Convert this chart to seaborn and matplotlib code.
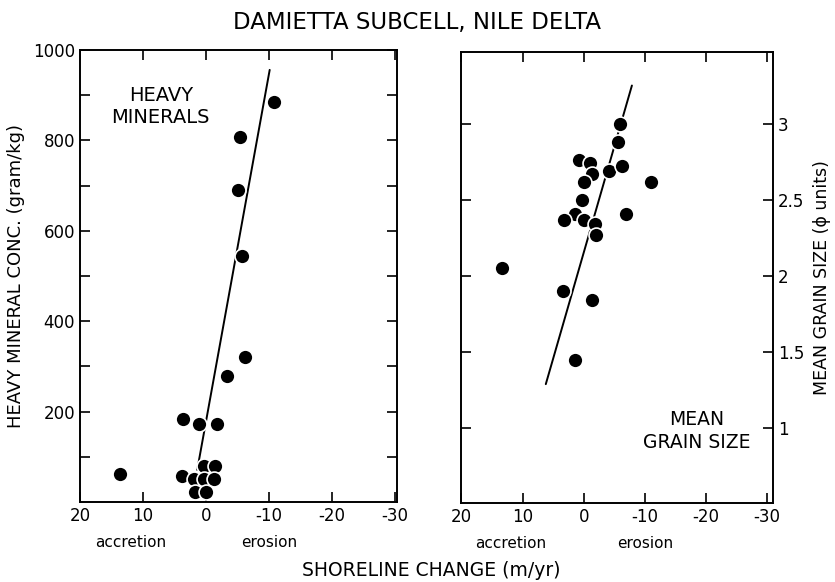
import matplotlib
matplotlib.use("Agg")
import matplotlib.pyplot as plt
import seaborn as sns
import pandas as pd

# ---- data ----
hm_change = [-10.8, -5.4, -5.1, -5.7, -6.2, -3.3, 3.6, 1.1, -1.8,
             13.7, 3.8, 1.9, 0.3, -1.5, 0.4, -1.3, 1.7, 0.0]
hm_conc = [885, 807, 690, 544, 321, 279, 184, 172, 172,
           62, 58, 51, 80, 80, 51, 51, 22, 22]
hm_fit_x = [-10.1, 1.4]
hm_fit_y = [956, 71]

gs_change = [-5.9, -5.7, 0.7, -1.1, -1.3, -4.2, -6.3, -11.1, -0.1, 0.3,
             1.4, 3.2, 0.0, -1.85, -2.1, -6.9, 13.4, 3.4, -1.3, 1.4]
gs_size = [3.0, 2.88, 2.76, 2.74, 2.67, 2.69, 2.72, 2.62, 2.62, 2.5,
           2.41, 2.37, 2.37, 2.34, 2.27, 2.41, 2.05, 1.90, 1.84, 1.45]
gs_fit_x = [-7.9, 6.2]
gs_fit_y = [3.25, 1.29]

x_ticks = [20, 10, 0, -10, -20, -30]
x_ticklabels = ["20", "10", "0", "-10", "-20", "-30"]
hm_yticks = [200, 400, 600, 800, 1000]
gs_yticks = [1, 1.5, 2, 2.5, 3]
gs_yticklabels = ["1", "1.5", "2", "2.5", "3"]

sns.set_theme(style="ticks")
plt.rcParams["font.family"] = ["DejaVu Sans"]
plt.rcParams["text.color"] = "black"
plt.rcParams["axes.labelcolor"] = "black"

fig = plt.figure(figsize=(8.35, 5.82), dpi=100)
ax1 = fig.add_axes([80 / 835, 1 - 502 / 582, 317 / 835, 452 / 582])
ax2 = fig.add_axes([461.5 / 835, 1 - 503 / 582, 311.5 / 835, 451 / 582])

df1 = pd.DataFrame({"x": hm_change, "y": hm_conc})
df2 = pd.DataFrame({"x": gs_change, "y": gs_size})

for ax, fx, fy, df in [(ax1, hm_fit_x, hm_fit_y, df1), (ax2, gs_fit_x, gs_fit_y, df2)]:
    sns.lineplot(x=fx, y=fy, ax=ax, color="black", linewidth=1.4, sort=False,
                 estimator=None, zorder=2)
    sns.scatterplot(data=df, x="x", y="y", ax=ax, color="black", s=115,
                    edgecolor="white", linewidth=1.2, zorder=3)
    ax.set_xlim(20, -30.3 if ax is ax1 else -31)
    ax.set_xticks(x_ticks)
    ax.set_xticklabels(x_ticklabels)
    for sp in ax.spines.values():
        sp.set_visible(True)
        sp.set_linewidth(1.4)
        sp.set_color("black")
    ax.set_xlabel("")
    ax.set_ylabel("")
    ax.text(12, -0.09, "accretion", transform=ax.get_xaxis_transform(),
            ha="center", va="center", fontsize=11)
    ax.text(-10, -0.09, "erosion", transform=ax.get_xaxis_transform(),
            ha="center", va="center", fontsize=11)

ax1.set_ylim(0, 1000)
ax1.set_yticks(hm_yticks)
ax1.set_yticks([100, 300, 500, 700, 900], minor=True)
ax1.tick_params(axis="both", which="both", direction="in", top=True, right=True,
                labelsize=12, length=7, width=1.2, colors="black")
ax1.set_ylabel("HEAVY MINERAL CONC. (gram/kg)", fontsize=13, labelpad=6)
ax1.text(0.255, 0.875, "HEAVY\nMINERALS", transform=ax1.transAxes, ha="center",
         va="center", fontsize=14, linespacing=1.25)

ax2.set_ylim(0.51, 3.47)
ax2.set_yticks(gs_yticks)
ax2.set_yticklabels(gs_yticklabels)
ax2.tick_params(axis="both", which="both", direction="in", top=True, right=True,
                left=True, labelleft=False, labelright=True,
                labelsize=12, length=7, width=1.2, colors="black")
ax2.yaxis.set_label_position("right")
ax2.set_ylabel("MEAN GRAIN SIZE (\u03d5 units)", fontsize=12.5, labelpad=6)
ax2.text(0.755, 0.16, "MEAN\nGRAIN SIZE", transform=ax2.transAxes, ha="center",
         va="center", fontsize=13.5, linespacing=1.25)

fig.text(417 / 835, 1 - 22 / 582, "DAMIETTA SUBCELL, NILE DELTA", ha="center",
         va="center", fontsize=16.5)
fig.text(431 / 835, 1 - 571 / 582, "SHORELINE CHANGE (m/yr)", ha="center",
         va="center", fontsize=13.5)

fig.savefig("out.png", dpi=100, facecolor="white")
